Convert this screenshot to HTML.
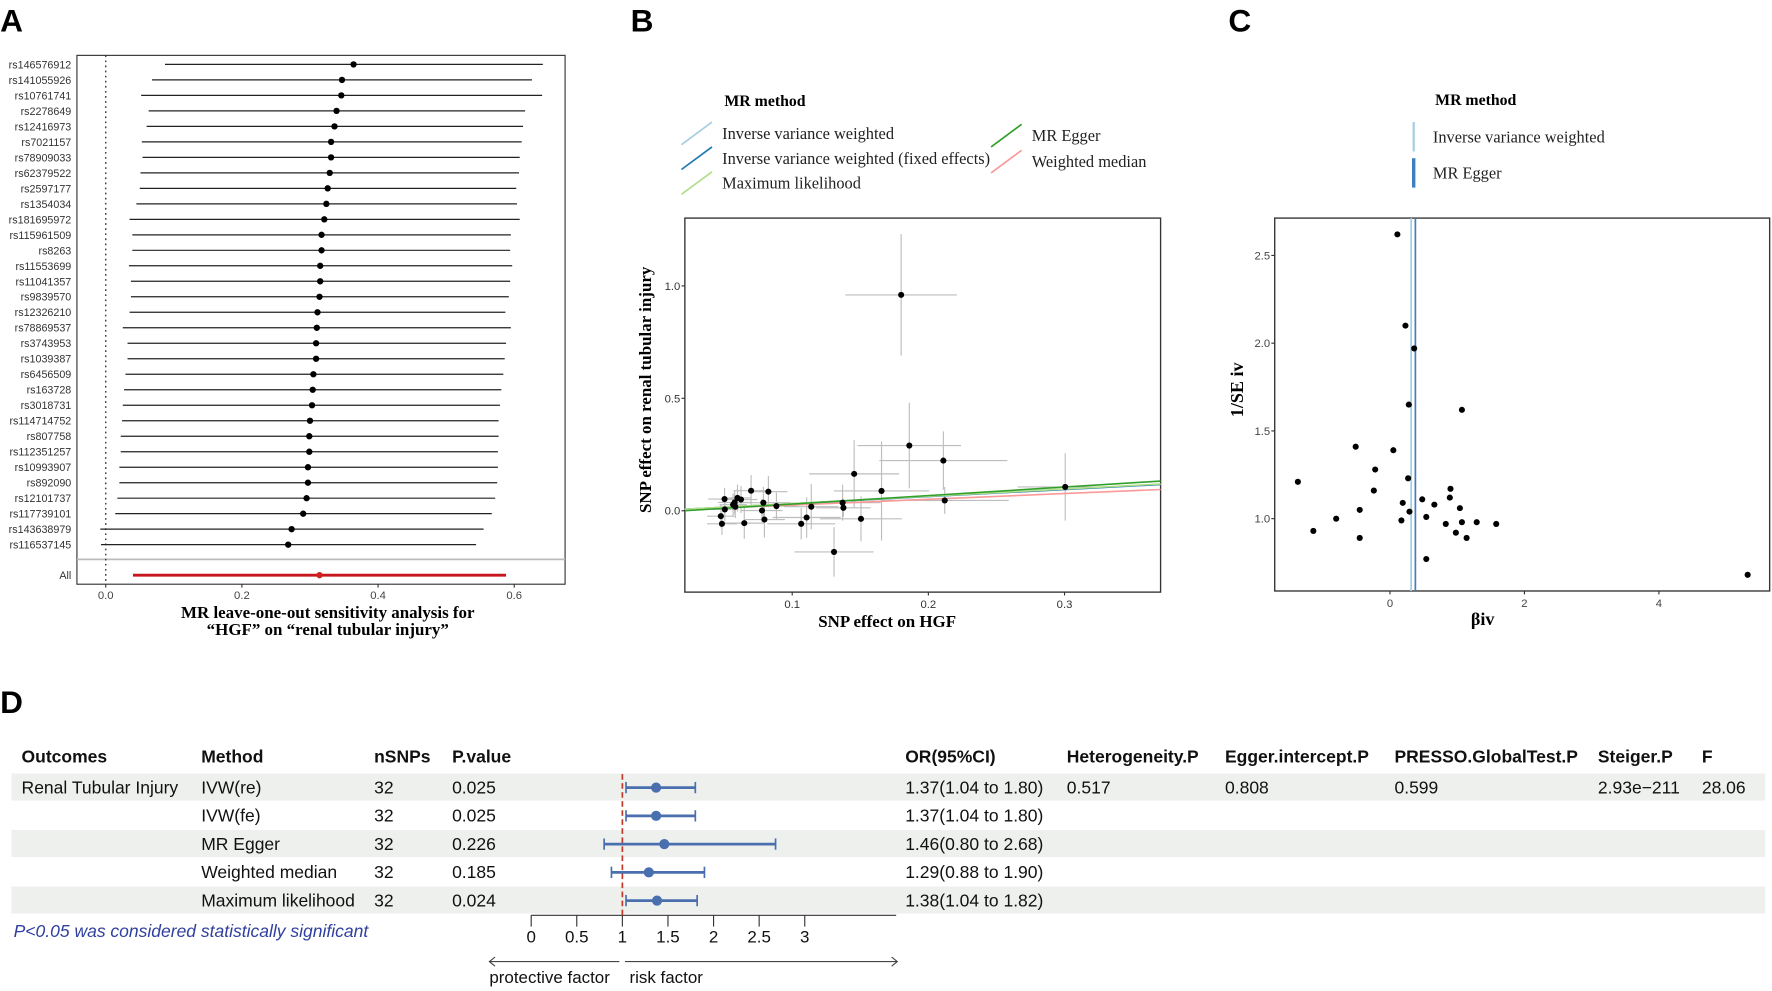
<!DOCTYPE html>
<html><head><meta charset="utf-8">
<style>
html,body{margin:0;padding:0;background:#fff;}
svg{display:block;}
.sans{font-family:"Liberation Sans",sans-serif;}
.serif{font-family:"Liberation Serif",serif;}
</style></head>
<body>
<svg id="fig" width="1772" height="991" viewBox="0 0 1568 877" xmlns="http://www.w3.org/2000/svg">
<g id="gA"></g>
<g id="gB"></g>
<g id="gC"></g>
<g id="gD"></g>
</svg>
<script>
// ---------- Panel A data ----------
const snpsA = ["rs146576912","rs141055926","rs10761741","rs2278649","rs12416973","rs7021157","rs78909033","rs62379522","rs2597177","rs1354034","rs181695972","rs115961509","rs8263","rs11553699","rs11041357","rs9839570","rs12326210","rs78869537","rs3743953","rs1039387","rs6456509","rs163728","rs3018731","rs114714752","rs807758","rs112351257","rs10993907","rs892090","rs12101737","rs117739101","rs143638979","rs116537145"];
const estA = [0.364,0.347,0.346,0.339,0.336,0.331,0.331,0.329,0.326,0.324,0.321,0.317,0.317,0.315,0.315,0.314,0.311,0.310,0.309,0.309,0.305,0.304,0.303,0.300,0.299,0.299,0.297,0.297,0.295,0.290,0.273,0.268];
const loA = [0.087,0.068,0.052,0.063,0.060,0.053,0.054,0.051,0.050,0.045,0.035,0.039,0.039,0.034,0.037,0.037,0.035,0.025,0.032,0.032,0.029,0.027,0.025,0.024,0.022,0.022,0.020,0.020,0.017,0.014,-0.008,-0.007];
const hiA = [0.642,0.626,0.641,0.616,0.613,0.611,0.608,0.607,0.603,0.604,0.608,0.595,0.594,0.597,0.594,0.592,0.587,0.595,0.588,0.586,0.584,0.581,0.579,0.577,0.577,0.576,0.576,0.575,0.572,0.567,0.555,0.544];
const allA = [0.314,0.040,0.588];
const ticksA = [0,0.2,0.4,0.6];

// ---------- Panel B data ----------
const bxB = [0.180,0.186,0.211,0.1455,0.1656,0.3005,0.212,0.137,0.1376,0.1505,0.1307,0.114,0.1106,0.1066,0.0884,0.0825,0.0698,0.0788,0.0778,0.0796,0.0648,0.0624,0.0598,0.0577,0.0566,0.0503,0.0505,0.0476,0.0484,0.0582];
const byB = [0.96,0.29,0.223,0.164,0.088,0.106,0.046,0.036,0.013,-0.036,-0.183,0.018,-0.03,-0.058,0.021,0.085,0.089,0.036,0.001,-0.039,-0.055,0.05,0.057,0.037,0.027,0.052,0.006,-0.024,-0.058,0.018];
const sxB = [0.041,0.038,0.047,0.033,0.035,0.035,0.047,0.028,0.02,0.03,0.029,0.02,0.025,0.025,0.015,0.014,0.013,0.02,0.015,0.015,0.015,0.012,0.01,0.012,0.01,0.012,0.01,0.01,0.011,0.01];
const syB = [0.27,0.19,0.13,0.15,0.22,0.15,0.06,0.08,0.04,0.1,0.11,0.1,0.09,0.07,0.06,0.07,0.07,0.07,0.05,0.08,0.07,0.06,0.06,0.05,0.05,0.05,0.05,0.05,0.05,0.05];
const methodsB = ["Inverse variance weighted","Inverse variance weighted (fixed effects)","Maximum likelihood","MR Egger","Weighted median"];
const slopeB = [0.315,0.315,0.322,0.378,0.255];
const interceptB = [0,0,0,-0.008,0];
const colorsB = ["#a6cee3","#1f78b4","#b2df8a","#33a02c","#fb9a99"];
const ticksBx = [0.1,0.2,0.3];
const ticksBy = [0,0.5,1.0];

// ---------- Panel C data ----------
const betaC = [0.11,0.23,0.36,0.28,1.07,-0.51,0.05,-0.22,-1.37,0.27,-0.24,0.90,0.89,0.48,0.19,0.66,1.04,-0.45,0.29,0.54,-0.80,0.17,1.07,1.29,0.83,1.58,-1.14,0.98,-0.45,1.14,0.54,5.32];
const invseC = [2.62,2.10,1.97,1.65,1.62,1.41,1.39,1.28,1.21,1.23,1.16,1.17,1.12,1.11,1.09,1.08,1.06,1.05,1.04,1.01,1.00,0.99,0.98,0.98,0.97,0.97,0.93,0.92,0.89,0.89,0.77,0.68];
const methodsC = ["Inverse variance weighted","MR Egger"];
const estC = [0.315,0.378];
const colorsC = ["#a6cee3","#3f7fbf"];
const ticksCx = [0,2,4];
const ticksCy = [1.0,1.5,2.0,2.5];

// ---------- Panel D data ----------
const methodsD = ["IVW(re)","IVW(fe)","MR Egger","Weighted median","Maximum likelihood"];
const orD = [1.37,1.37,1.46,1.29,1.38];
const loD = [1.04,1.04,0.80,0.88,1.04];
const hiD = [1.80,1.80,2.68,1.90,1.82];
const pD = ["0.025","0.025","0.226","0.185","0.024"];
const ticksD = [0,0.5,1,1.5,2,2.5,3];

const NS="http://www.w3.org/2000/svg";
function mk(parent,tag,attrs,text){const e=document.createElementNS(NS,tag);for(const k in attrs)e.setAttribute(k,attrs[k]);if(text!==undefined)e.textContent=text;parent.appendChild(e);return e;}

// ======== Panel A ========
(function(){
const g=document.getElementById('gA');
const xA=v=>93.5+(v/0.1)*60.25;
const yA=i=>57+i*13.71;
let t=mk(g,'text',{x:0,y:28,'font-size':28,'font-weight':'bold',class:'sans'},'A');


let r=mk(g,'rect',{x:68,y:49,width:432,height:468,fill:'none',stroke:'#333','stroke-width':1});


let sep=mk(g,'line',{x1:68,x2:500,y1:495,y2:495,stroke:'#bbb','stroke-width':1.5});


let ref=mk(g,'line',{x1:xA(0),x2:xA(0),y1:49,y2:517,stroke:'#333','stroke-width':1.2,'stroke-dasharray':'1.5,3'});


snpsA.forEach((s,i)=>{
  const y=yA(i);
  const l=mk(g,'text',{x:63,y:y+3.5,'font-size':9.5,'text-anchor':'end',fill:'#333',class:'sans'},s);
  
  
  const ln=mk(g,'line',{x1:xA(loA[i]),x2:xA(hiA[i]),y1:y,y2:y,stroke:'#222','stroke-width':1.1});
  
  
  const c=mk(g,'circle',{cx:xA(estA[i]),cy:y,r:2.8,fill:'#000'});
  
  
});
const ya=509;
let la=mk(g,'text',{x:63,y:ya+3.5,'font-size':9.5,'text-anchor':'end',fill:'#333',class:'sans'},'All');


let al=mk(g,'line',{x1:xA(allA[1]),x2:xA(allA[2]),y1:ya,y2:ya,stroke:'#c8141c','stroke-width':2.6});


let ac=mk(g,'circle',{cx:xA(allA[0]),cy:ya,r:2.8,fill:'#d42020'});


ticksA.forEach(v=>{
  const tk=mk(g,'line',{x1:xA(v),x2:xA(v),y1:517,y2:520,stroke:'#333'});
  
  
  const tl=mk(g,'text',{x:xA(v),y:530,'font-size':10,'text-anchor':'middle',fill:'#444',class:'sans'},v.toFixed(1));
  
  
});
let t1=mk(g,'text',{x:290,y:547,'font-size':15,'font-weight':'bold','text-anchor':'middle',class:'serif'},'MR leave-one-out sensitivity analysis for');


let t2=mk(g,'text',{x:290,y:562,'font-size':15,'font-weight':'bold','text-anchor':'middle',class:'serif'},'\u201cHGF\u201d on \u201crenal tubular injury\u201d');


})();

// ======== Panel B ========
(function(){
const g=document.getElementById('gB');
const X0=606,X1=1027,Y0=193,Y1=524;
const xB=v=>701+(v-0.1)*1205;
const yB=v=>452-v*199;
let t=mk(g,'text',{x:558,y:28,'font-size':28,'font-weight':'bold',class:'sans'},'B');


let lt=mk(g,'text',{x:641,y:94,'font-size':14,'font-weight':'bold',class:'serif'},'MR method');


const legPos=[[603,118],[603,140],[603,162],[877,120],[877,143]];
methodsB.forEach((m,i)=>{
  const [lx,ly]=legPos[i];
  const k=mk(g,'line',{x1:lx,y1:ly+10,x2:lx+27,y2:ly-10,stroke:colorsB[i],'stroke-width':1.5});
  
  
  const tx=mk(g,'text',{x:lx+36,y:ly+5,'font-size':14.5,class:'serif',fill:'#222'},m);
  
  
});
let r=mk(g,'rect',{x:X0,y:Y0,width:X1-X0,height:Y1-Y0,fill:'none',stroke:'#333','stroke-width':1.2});


bxB.forEach((x,i)=>{
  const y=byB[i];
  const h=mk(g,'line',{x1:xB(x-sxB[i]),x2:xB(x+sxB[i]),y1:yB(y),y2:yB(y),stroke:'#bdbdbd','stroke-width':1});
  
  
  const v=mk(g,'line',{x1:xB(x),x2:xB(x),y1:yB(y-syB[i]),y2:yB(y+syB[i]),stroke:'#bdbdbd','stroke-width':1});
  
  
});
const xl=(X0-701)/1205+0.1, xr=(X1-701)/1205+0.1;
const order=[4,0,1,2,3];
order.forEach(i=>{
  const l=mk(g,'line',{x1:X0,y1:yB(interceptB[i]+slopeB[i]*xl),x2:X1,y2:yB(interceptB[i]+slopeB[i]*xr),stroke:colorsB[i],'stroke-width':1.4});
  
  
});
bxB.forEach((x,i)=>{
  const c=mk(g,'circle',{cx:xB(x),cy:yB(byB[i]),r:2.7,fill:'#000'});
  
  
});
ticksBx.forEach(v=>{
  const tk=mk(g,'line',{x1:xB(v),x2:xB(v),y1:Y1,y2:Y1+3,stroke:'#333'});
  
  
  const tl=mk(g,'text',{x:xB(v),y:Y1+14,'font-size':10,'text-anchor':'middle',fill:'#333',class:'sans'},v.toFixed(1));
  
  
});
ticksBy.forEach(v=>{
  const tk=mk(g,'line',{x1:X0-3,x2:X0,y1:yB(v),y2:yB(v),stroke:'#333'});
  
  
  const tl=mk(g,'text',{x:X0-4,y:yB(v)+3.5,'font-size':10,'text-anchor':'end',fill:'#333',class:'sans'},v.toFixed(1));
  
  
});
let xt=mk(g,'text',{x:785,y:555,'font-size':15,'font-weight':'bold','text-anchor':'middle',class:'serif'},'SNP effect on HGF');


let yt=mk(g,'text',{x:0,y:0,'font-size':15,'font-weight':'bold','text-anchor':'middle',class:'serif',transform:'translate(576,345) rotate(-90)'},'SNP effect on renal tubular injury');


})();

// ======== Panel C ========
(function(){
const g=document.getElementById('gC');
const X0=1128,X1=1566,Y0=193,Y1=523;
const xC=v=>1230+v*59.5;
const yC=v=>459-(v-1)*155.3;
let t=mk(g,'text',{x:1087,y:28,'font-size':28,'font-weight':'bold',class:'sans'},'C');


let lt=mk(g,'text',{x:1270,y:93,'font-size':14,'font-weight':'bold',class:'serif'},'MR method');


methodsC.forEach((m,i)=>{
  const ly=i===0?108:140;
  const k=mk(g,'line',{x1:1251,x2:1251,y1:ly,y2:ly+26,stroke:colorsC[i],'stroke-width':i===0?2:3});
  
  
  const tx=mk(g,'text',{x:1268,y:ly+18,'font-size':14.5,class:'serif',fill:'#222'},m);
  
  
});
let r=mk(g,'rect',{x:X0,y:Y0,width:X1-X0,height:Y1-Y0,fill:'none',stroke:'#333','stroke-width':1.2});


estC.forEach((v,i)=>{
  const l=mk(g,'line',{x1:xC(v),x2:xC(v),y1:Y0,y2:Y1,stroke:colorsC[i],'stroke-width':1.5});
  
  
});
betaC.forEach((b,i)=>{
  const c=mk(g,'circle',{cx:xC(b),cy:yC(invseC[i]),r:2.7,fill:'#000'});
  
  
});
ticksCx.forEach(v=>{
  const tk=mk(g,'line',{x1:xC(v),x2:xC(v),y1:Y1,y2:Y1+3,stroke:'#333'});
  
  
  const tl=mk(g,'text',{x:xC(v),y:Y1+14,'font-size':10,'text-anchor':'middle',fill:'#444',class:'sans'},String(v));
  
  
});
ticksCy.forEach(v=>{
  const tk=mk(g,'line',{x1:X0-3,x2:X0,y1:yC(v),y2:yC(v),stroke:'#333'});
  
  
  const tl=mk(g,'text',{x:X0-4,y:yC(v)+3.5,'font-size':10,'text-anchor':'end',fill:'#444',class:'sans'},v.toFixed(1));
  
  
});
let xt=mk(g,'text',{x:1312,y:553,'font-size':16,'font-weight':'bold','text-anchor':'middle',class:'serif'},'\u03b2iv');


let yt=mk(g,'text',{x:0,y:0,'font-size':16,'font-weight':'bold','text-anchor':'middle',class:'serif',transform:'translate(1100,345) rotate(-90)'},'1/SE iv');


})();

// ======== Panel D ========
(function(){
const g=document.getElementById('gD');
const xD=v=>470+v*80.7;
const rowY=i=>697+i*25;
let t=mk(g,'text',{x:0,y:631,'font-size':28,'font-weight':'bold',class:'sans'},'D');


[0,2,4].forEach(i=>{
  const s=mk(g,'rect',{x:10,y:rowY(i)-12.5,width:1552,height:24,fill:'#eef0ee'});
  
  
});
const heads=[["Outcomes",19],["Method",178],["nSNPs",331],["P.value",400],["OR(95%CI)",801],["Heterogeneity.P",944],["Egger.intercept.P",1084],["PRESSO.GlobalTest.P",1234],["Steiger.P",1414],["F",1506]];
heads.forEach(h=>{
  const e=mk(g,'text',{x:h[1],y:675,'font-size':15.5,'font-weight':'bold',class:'sans',fill:'#111'},h[0]);
  
  
});
const cell=(txt,x,y)=>{const e=mk(g,'text',{x:x,y:y+5,'font-size':15.5,class:'sans',fill:'#111'},txt);};
cell("Renal Tubular Injury",19,rowY(0));
cell("0.517",944,rowY(0));cell("0.808",1084,rowY(0));cell("0.599",1234,rowY(0));cell("2.93e\u2212211",1414,rowY(0));cell("28.06",1506,rowY(0));
methodsD.forEach((m,i)=>{
  const y=rowY(i);
  cell(m,178,y);cell("32",331,y);cell(pD[i],400,y);
  cell(orD[i].toFixed(2)+"("+loD[i].toFixed(2)+" to "+hiD[i].toFixed(2)+")",801,y);
});
// axis
let ax=mk(g,'line',{x1:470,x2:793,y1:810,y2:810,stroke:'#333','stroke-width':1});


ticksD.forEach(v=>{
  const tk=mk(g,'line',{x1:xD(v),x2:xD(v),y1:810,y2:820,stroke:'#333'});
  
  
  const tl=mk(g,'text',{x:xD(v),y:834,'font-size':15,'text-anchor':'middle',class:'sans',fill:'#111'},String(v));
  
  
});
let rl=mk(g,'line',{x1:xD(1),x2:xD(1),y1:685,y2:810,stroke:'#c0392b','stroke-width':1.5,'stroke-dasharray':'5,3'});


orD.forEach((o,i)=>{
  const y=rowY(i);
  const l=mk(g,'line',{x1:xD(loD[i]),x2:xD(hiD[i]),y1:y,y2:y,stroke:'#4a6fae','stroke-width':2.5});
  
  
  [loD[i],hiD[i]].forEach(v=>{
    const c=mk(g,'line',{x1:xD(v),x2:xD(v),y1:y-5,y2:y+5,stroke:'#4a6fae','stroke-width':1.5});
    
    
  });
  const p=mk(g,'circle',{cx:xD(o),cy:y,r:4.5,fill:'#4a6fae'});
  
  
});
let fn=mk(g,'text',{x:12,y:829,'font-size':15.5,'font-style':'italic',class:'sans',fill:'#2e3f9e'},'P<0.05 was considered statistically significant');


let a1=mk(g,'path',{d:'M548 851 H433 M438 847 L433 851 L438 855',stroke:'#444',fill:'none','stroke-width':1});


let a2=mk(g,'path',{d:'M553 851 H794 M789 847 L794 851 L789 855',stroke:'#444',fill:'none','stroke-width':1});


let p1=mk(g,'text',{x:433,y:870,'font-size':15,class:'sans',fill:'#111'},'protective factor');


let p2=mk(g,'text',{x:557,y:870,'font-size':15,class:'sans',fill:'#111'},'risk factor');


})();
</script>
</body></html>
